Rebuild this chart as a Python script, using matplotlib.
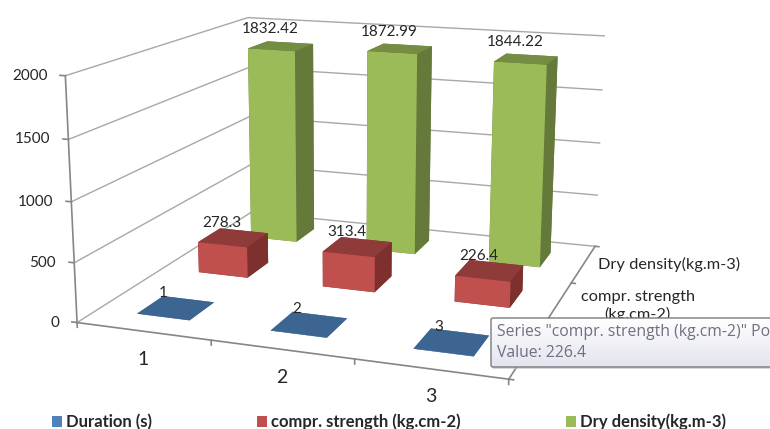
import numpy as np
import matplotlib
matplotlib.use('Agg')
import matplotlib.pyplot as plt
from matplotlib.patches import FancyBboxPatch, Patch
from matplotlib.colors import LinearSegmentedColormap
from mpl_toolkits.mplot3d import proj3d

categories = ['1', '2', '3']
series_names = ['Duration (s)', 'compr. strength (kg.cm-2)', 'Dry density(kg.m-3)']
depth_labels = ['', 'compr. strength\n(kg.cm-2)', 'Dry density(kg.m-3)']
duration = [1, 2, 3]
strength = [278.3, 313.4, 226.4]
density = [1832.42, 1872.99, 1844.22]
z_ticks = [0, 500, 1000, 1500, 2000]

# front, top and side shades for each series
front_colors = ['#4f81bd', '#c0504d', '#9bbb59']
top_colors = ['#3c6591', '#8f3b39', '#748d43']
side_colors = ['#335578', '#7d302e', '#65793a']
legend_colors = ['#4f81bd', '#c0504d', '#9bbb59']

W, H = 770, 429
plt.rcParams['font.family'] = ['Lato', 'DejaVu Sans']
text_color = '#262626'
grid_color = '#a8a8a8'
axis_color = '#868686'

fig = plt.figure(figsize=(W / 100, H / 100), dpi=100, facecolor='white')
ax = fig.add_axes([135.56 / W, 36.86 / H, 432.76 / W, 432.76 / H], projection='3d')
ax.computed_zorder = False
ax.set_proj_type('persp', focal_length=0.6103)
ax.view_init(elev=13.8676, azim=-70.7247, roll=-0.1316)
aspect = np.array([1.7652, 1.7429, 1.0])
ax.set_box_aspect(aspect, zoom=np.linalg.norm(aspect) / (1.8294640721620434 * 25 / 24))
ax.set_axis_off()


def line3d(xs, ys, zs, color, lw, zorder):
    ax.plot(xs, ys, zs, color=color, lw=lw, zorder=zorder, clip_on=False)


# walls
for z in z_ticks:
    line3d([0, 0, 3], [0, 3, 3], [z, z, z], grid_color, 1, 1)
    line3d([-0.04, 0], [0, 0], [z, z], axis_color, 1.2, 2)

# floor edges and ticks
line3d([0, 0], [0, 0], [0, 2000], axis_color, 1.2, 2)
line3d([0, 3, 3], [0, 0, 3], [0, 0, 0], axis_color, 1.2, 2)
for i in range(4):
    line3d([i, i], [0, 0], [-40, 0], axis_color, 1.2, 2)
    line3d([3, 3.03], [i, i], [0, 0], axis_color, 1.2, 2)

# bars, back row first so the front rows paint over them
rows = [duration, strength, density]
order = 3
for row in [2, 1, 0]:
    for col in range(3):
        val = rows[row][col]
        faces = [top_colors[row], top_colors[row], front_colors[row], side_colors[row],
                 side_colors[row], side_colors[row]]
        bar = ax.bar3d(col + 0.3, row + 0.3, 0, 0.4, 0.4, val, color=faces, shade=False,
                       linewidth=0, edgecolor='none')
        bar.set_zorder(order)
        order += 1

ax.set_xlim(0, 3)
ax.set_ylim(0, 3)
ax.set_zlim(0, 2000)


def label3d(x, y, z, s, dx, dy, size, ha='center'):
    # text anchored to a projected point, shifted by a few pixels
    px, py, _ = proj3d.proj_transform(x, y, z, ax.get_proj())
    ax.annotate(s, (px, py), xytext=(dx, dy), textcoords='offset pixels', ha=ha, va='center',
                fontsize=size, color=text_color, annotation_clip=False, zorder=30)


for z in z_ticks:
    label3d(0, 0, z, str(z), -18, 0, 11, ha='right')

for row, (dx, dy) in enumerate([(-13, 15), (-11, 15), (-11, 17)]):
    for col in range(3):
        val = rows[row][col]
        label3d(col + 0.5, row + 0.5, val, str(val), dx, dy, 11)

for col, name in enumerate(categories):
    label3d(col + 0.5, 0, 0, name, 0, -28, 14)

# the first depth label is hidden behind the hover box
for row, dx, dy in [(1, 80, -2), (2, 85, -1)]:
    label3d(3, row + 0.5, 0, depth_labels[row], dx, dy, 11.8)

# hover box sits on a flat overlay in pixel units
over = fig.add_axes([0, 0, 1, 1], zorder=5)
over.axis('off')

box = FancyBboxPatch((491, 318), 300, 49, boxstyle='round,pad=0,rounding_size=2',
                     facecolor='none', edgecolor='#7a7a7a', lw=1, zorder=3)
shadow = FancyBboxPatch((492, 320), 300, 49, boxstyle='round,pad=0,rounding_size=2',
                        facecolor='#bdbdbd', edgecolor='none', alpha=0.6, zorder=1)
over.add_patch(shadow)
over.add_patch(box)
cmap = LinearSegmentedColormap.from_list('hover', ['#ffffff', '#e3e4ef'])
img = over.imshow(np.linspace(0, 1, 50).reshape(-1, 1), extent=(491, 791, 367, 318), cmap=cmap,
                  aspect='auto', zorder=2)
img.set_clip_path(box)
over.set_xlim(0, W)
over.set_ylim(H, 0)
over.text(497, 332, 'Series "compr. strength (kg.cm-2)" Po', family='Open Sans', fontsize=11.3,
          color='#6f7080', va='center', zorder=4)
over.text(497, 353, 'Value: 226.4', family='Open Sans', fontsize=11.3, color='#6f7080',
          va='center', zorder=4)

handles = [Patch(facecolor=c, edgecolor='none') for c in legend_colors]
leg = fig.legend(handles, series_names, ncol=3, loc='lower left', bbox_to_anchor=(52 / W, -1.5 / H),
                 frameon=False, prop={'weight': 'bold', 'size': 12}, borderpad=0,
                 borderaxespad=0, handlelength=0.6, handleheight=0.6, handletextpad=0.25,
                 columnspacing=6.3)
leg.set_zorder(6)
for t in leg.get_texts():
    t.set_color(text_color)

fig.savefig('out.png', dpi=100, facecolor='white')
